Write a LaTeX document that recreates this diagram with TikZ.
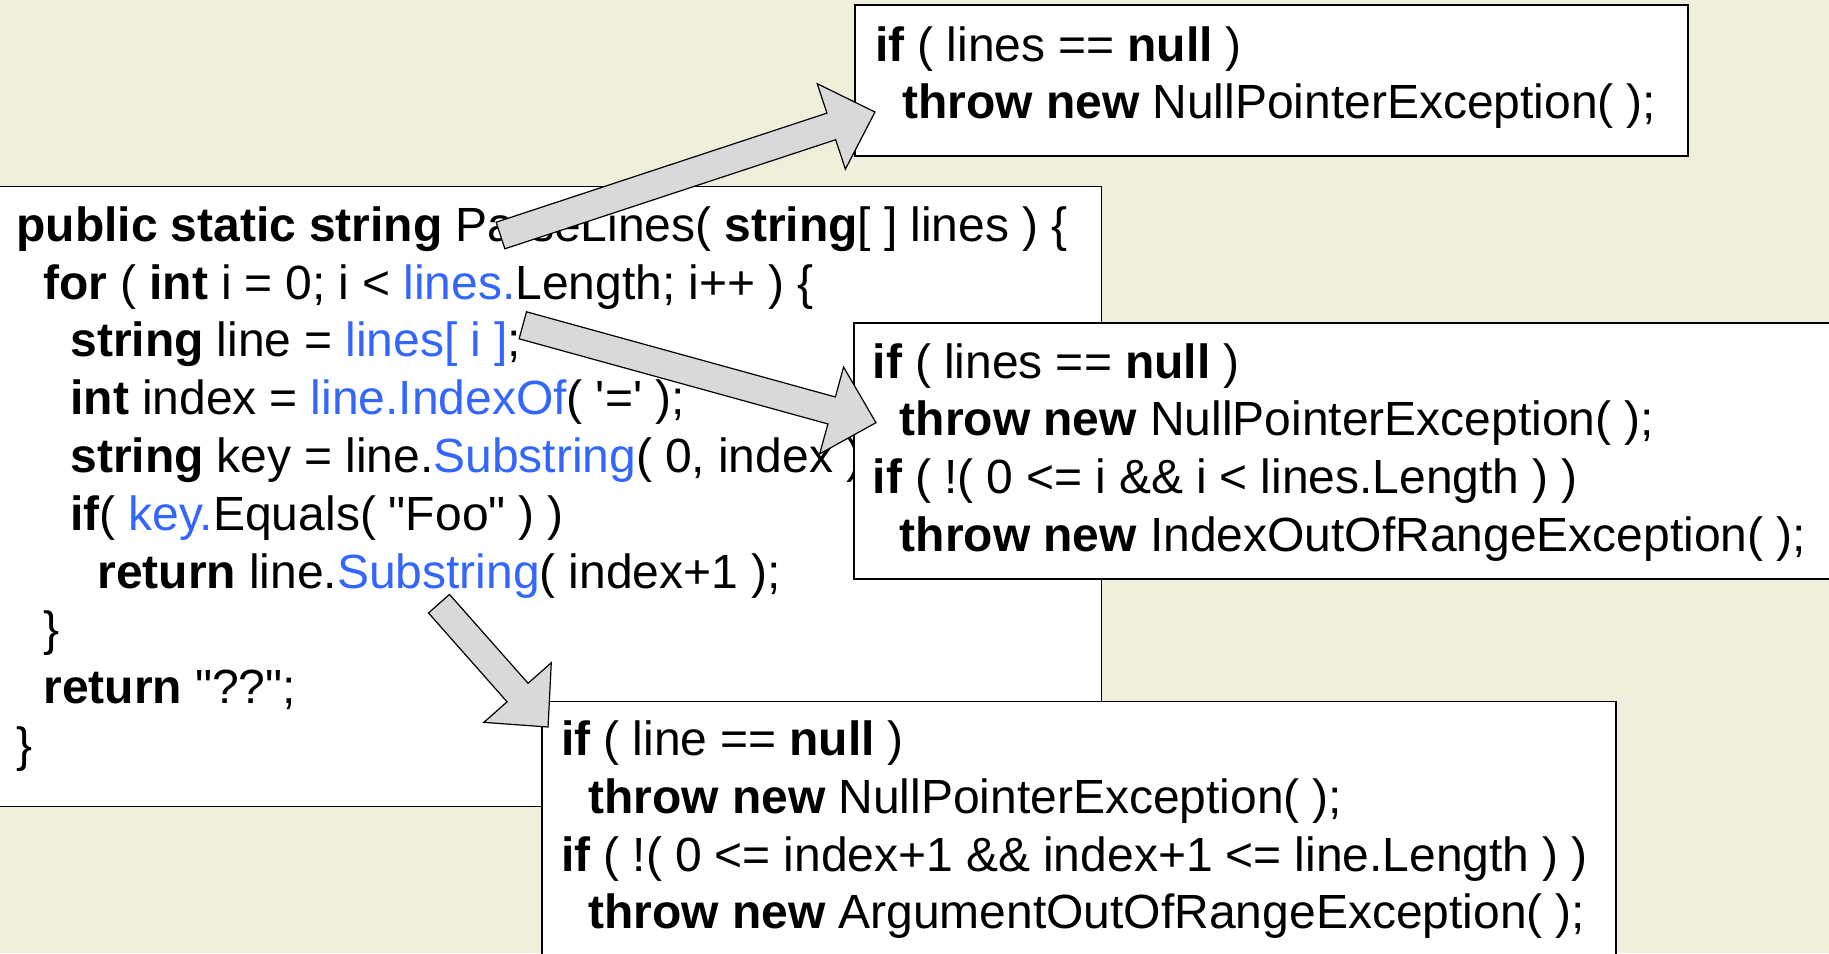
\documentclass[tikz,border=0pt]{standalone}
\usepackage{fontspec}
\setmainfont{Liberation Sans}
\usetikzlibrary{calc}

\definecolor{paper}{RGB}{240,239,219}
\definecolor{callblue}{RGB}{51,102,255}
\definecolor{arrowgray}{RGB}{217,217,217}

\newlength{\codestep}
\setlength{\codestep}{13.5pt}
\newcommand{\kw}[1]{\textbf{#1}}
\newcommand{\call}[1]{\textcolor{callblue}{#1}}
\newcommand{\lvl}[1]{\hspace*{#1\codestep}}

\tikzset{
  codebox/.style={draw, line width=0.9pt, fill=white, anchor=north west, inner sep=0pt},
  codetext/.style={anchor=base west, inner sep=0pt, align=left, text width=640pt,
    font=\fontsize{24pt}{28.9pt}\selectfont,
    execute at begin node={\spaceskip=6.5pt\relax\xspaceskip=6.5pt\relax}},
  blockarrow/.style={draw=black, line width=0.6pt, fill=arrowgray, line join=miter},
}

% fat arrow from #1 to #2 (shaft 14pt, head 45pt wide, 23pt long)
\newcommand{\fatarrow}[2]{%
  \draw[blockarrow] let \p1=(#1), \p2=(#2),
      \n1={atan2(\y2-\y1,\x2-\x1)}, \n2={veclen(\x2-\x1,\y2-\y1)} in
    [shift={(\p1)}, rotate=\n1]
    (0pt,-7pt) -- (\n2*1pt-23pt,-7pt) -- (\n2*1pt-23pt,-22.5pt) -- (\n2*1pt,0pt)
    -- (\n2*1pt-23pt,22.5pt) -- (\n2*1pt-23pt,7pt) -- (0pt,7pt) -- cycle;}

\begin{document}
\begin{tikzpicture}[x=0.5pt, y=-0.5pt]
  \fill[paper] (0,0) rectangle (1829,953);
  \useasboundingbox (0,0) rectangle (1829,953);

  % the method
  \node[codebox, minimum width=560.25pt, minimum height=310pt] (parse) at (-20,185.5) {};
  \node[codetext] (parsecode) at (16,241.2) {%
    \kw{public static string} ParseLines( \kw{string}[ ] lines ) \{\\
    \lvl{1}\kw{for} ( \kw{int} i = 0; i < \call{lines.}Length; i++ ) \{\\
    \lvl{2}\kw{string} line = \call{lines[ i ]};\\
    \lvl{2}\kw{int} index = \call{line.IndexOf}( \textquotesingle=\textquotesingle\ );\\
    \lvl{2}\kw{string} key = line.\call{Substring}( 0, index );\\
    \lvl{2}\kw{if}( \call{key.}Equals( \textquotedbl Foo\textquotedbl\ ) )\\
    \lvl{3}\kw{return} line.\call{Substring}( index+1 );\\
    \lvl{1}\}\\
    \lvl{1}\kw{return} \textquotedbl ??\textquotedbl;\\
    \}};

  % the checks
  \node[codebox, minimum width=416.5pt, minimum height=75.5pt] (nullchk) at (854,4) {};
  \node[codetext] (nullcode) at (875,61) {%
    \kw{if} ( lines == \kw{null} )\\
    \lvl{1}\kw{throw new} NullPointerException( );};

  \node[codebox, minimum width=520pt, minimum height=128pt] (idxchk) at (853,322) {};
  \node[codetext] (idxcode) at (872.5,378) {%
    \kw{if} ( lines == \kw{null} )\\
    \lvl{1}\kw{throw new} NullPointerException( );\\
    \kw{if} ( !( 0 <= i \&\& i < lines.Length ) )\\
    \lvl{1}\kw{throw new} IndexOutOfRangeException( );};

  \node[codebox, minimum width=537pt, minimum height=150pt] (subchk) at (541,700.5) {};
  \node[codetext] (subcode) at (561,755.5) {%
    \kw{if} ( line == \kw{null} )\\
    \lvl{1}\kw{throw new} NullPointerException( );\\
    \kw{if} ( !( 0 <= index+1 \&\& index+1 <= line.Length ) )\\
    \lvl{1}\kw{throw new} ArgumentOutOfRangeException( );};

  \coordinate (fromParse) at (500.5,235.5);
  \coordinate (toNull) at (875,112);
  \coordinate (fromIdx) at (522.8,325.3);
  \coordinate (toIdx) at (876,422.7);
  \coordinate (fromSub) at (439,603.7);
  \coordinate (toSub) at (548.3,727.3);

  \fatarrow{fromParse}{toNull}
  \fatarrow{fromIdx}{toIdx}
  \fatarrow{fromSub}{toSub}
\end{tikzpicture}
\end{document}
